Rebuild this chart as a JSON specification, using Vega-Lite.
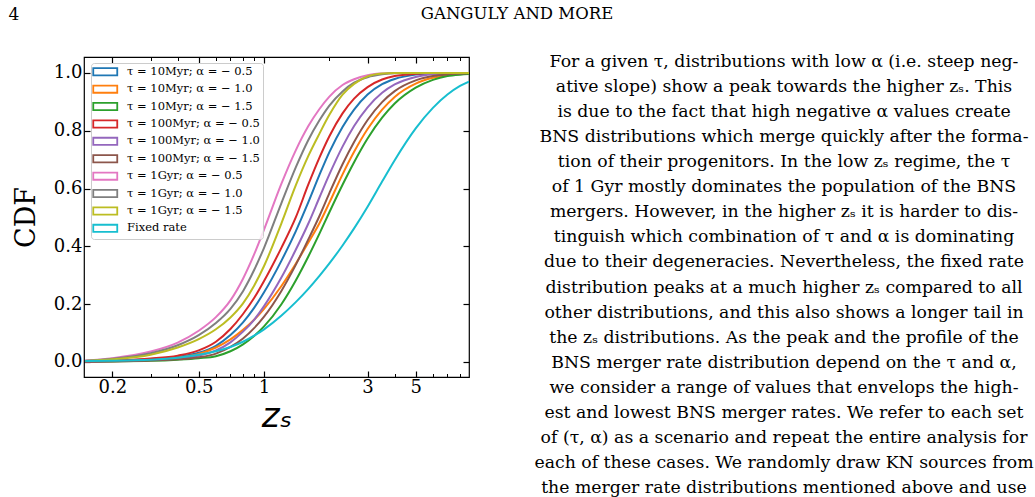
{
  "$schema": "https://vega.github.io/schema/vega-lite/v6.json",
  "padding": {"left": 8, "top": 0, "right": 0, "bottom": 0},
  "background": "white",
  "config": {"view": {"stroke": null}},
  "columns": 1,
  "align": "none",
  "spacing": 25,
  "resolve": {"scale": {"color": "independent"}, "legend": {"color": "independent"}},
  "concat": [
    {
      "width": 866,
      "height": 28,
      "data": {"values": [{"t": "GANGULY AND MORE"}]},
      "mark": {"type": "text", "align": "center", "baseline": "middle", "font": "DejaVu Serif", "fontSize": 16.5, "color": "black"},
      "encoding": {
        "text": {"field": "t"},
        "x": {"datum": 0.5, "type": "quantitative", "scale": {"domain": [0, 1]}, "axis": null},
        "y": {"datum": 0.5, "type": "quantitative", "scale": {"domain": [0, 1]},
          "axis": {"ticks": false, "labels": false, "domain": false, "grid": false,
            "title": "4", "titleAngle": 0, "titleAlign": "left", "titleBaseline": "middle", "titleX": -76, "titleY": 14,
            "titleFont": "DejaVu Serif", "titleFontSize": 17, "titleFontWeight": "normal", "titleColor": "black"}}
      }
    },
    {
      "spacing": 60,
      "resolve": {"scale": {"color": "independent"}, "legend": {"color": "independent"}},
      "hconcat": [
        {
          "width": 385,
          "height": 320,
          "view": {"stroke": "black", "strokeWidth": 1.2},
          "data": {"values": [
            {"z":0.15,"a":0.002,"b":0.002,"c":0.001,"d":0.002,"e":0.001,"f":0.001,"g":0.005,"h":0.004,"i":0.003,"j":0.003},
            {"z":0.2,"a":0.004,"b":0.004,"c":0.002,"d":0.005,"e":0.003,"f":0.002,"g":0.013,"h":0.011,"i":0.009,"j":0.004},
            {"z":0.3,"a":0.010,"b":0.008,"c":0.004,"d":0.012,"e":0.007,"f":0.005,"g":0.036,"h":0.030,"i":0.025,"j":0.008},
            {"z":0.4,"a":0.018,"b":0.015,"c":0.008,"d":0.022,"e":0.012,"f":0.009,"g":0.067,"h":0.058,"i":0.050,"j":0.015},
            {"z":0.5,"a":0.032,"b":0.028,"c":0.013,"d":0.040,"e":0.022,"f":0.016,"g":0.108,"h":0.093,"i":0.079,"j":0.025},
            {"z":0.6,"a":0.056,"b":0.050,"c":0.020,"d":0.070,"e":0.040,"f":0.029,"g":0.155,"h":0.135,"i":0.113,"j":0.037},
            {"z":0.7,"a":0.093,"b":0.078,"c":0.037,"d":0.114,"e":0.068,"f":0.052,"g":0.213,"h":0.184,"i":0.154,"j":0.052},
            {"z":0.8,"a":0.137,"b":0.111,"c":0.061,"d":0.166,"e":0.105,"f":0.081,"g":0.288,"h":0.245,"i":0.203,"j":0.070},
            {"z":0.9,"a":0.187,"b":0.146,"c":0.090,"d":0.221,"e":0.146,"f":0.117,"g":0.372,"h":0.318,"i":0.264,"j":0.091},
            {"z":1.0,"a":0.241,"b":0.184,"c":0.123,"d":0.280,"e":0.193,"f":0.157,"g":0.458,"h":0.395,"i":0.332,"j":0.113},
            {"z":1.2,"a":0.349,"b":0.262,"c":0.199,"d":0.394,"e":0.291,"f":0.245,"g":0.615,"h":0.548,"i":0.478,"j":0.160},
            {"z":1.4,"a":0.452,"b":0.340,"c":0.282,"d":0.500,"e":0.388,"f":0.336,"g":0.732,"h":0.673,"i":0.611,"j":0.207},
            {"z":1.6,"a":0.553,"b":0.413,"c":0.365,"d":0.614,"e":0.479,"f":0.424,"g":0.816,"h":0.768,"i":0.713,"j":0.253},
            {"z":1.8,"a":0.647,"b":0.480,"c":0.444,"d":0.707,"e":0.569,"f":0.505,"g":0.875,"h":0.836,"i":0.790,"j":0.298},
            {"z":2.0,"a":0.726,"b":0.551,"c":0.518,"d":0.781,"e":0.649,"f":0.584,"g":0.918,"h":0.887,"i":0.855,"j":0.341},
            {"z":2.3,"a":0.813,"b":0.649,"c":0.613,"d":0.860,"e":0.745,"f":0.684,"g":0.958,"h":0.936,"i":0.925,"j":0.403},
            {"z":2.6,"a":0.873,"b":0.727,"c":0.691,"d":0.911,"e":0.816,"f":0.761,"g":0.978,"h":0.966,"i":0.962,"j":0.462},
            {"z":3.0,"a":0.925,"b":0.806,"c":0.773,"d":0.951,"e":0.881,"f":0.837,"g":0.992,"h":0.985,"i":0.988,"j":0.537},
            {"z":3.5,"a":0.961,"b":0.873,"c":0.845,"d":0.977,"e":0.931,"f":0.899,"g":0.998,"h":0.995,"i":0.998,"j":0.624},
            {"z":4.0,"a":0.979,"b":0.917,"c":0.894,"d":0.989,"e":0.960,"f":0.937,"g":1.0,"h":0.999,"i":1.0,"j":0.698},
            {"z":5.0,"a":0.994,"b":0.963,"c":0.949,"d":0.997,"e":0.986,"f":0.974,"g":1.0,"h":1.0,"i":1.0,"j":0.808},
            {"z":6.0,"a":0.998,"b":0.983,"c":0.976,"d":0.999,"e":0.995,"f":0.989,"g":1.0,"h":1.0,"i":1.0,"j":0.879},
            {"z":7.0,"a":0.999,"b":0.992,"c":0.989,"d":1.0,"e":0.998,"f":0.995,"g":1.0,"h":1.0,"i":1.0,"j":0.925},
            {"z":8.0,"a":1.0,"b":0.996,"c":0.994,"d":1.0,"e":0.999,"f":0.998,"g":1.0,"h":1.0,"i":1.0,"j":0.955},
            {"z":8.8,"a":1.0,"b":0.998,"c":0.996,"d":1.0,"e":1.0,"f":0.999,"g":1.0,"h":1.0,"i":1.0,"j":0.970}
          ]},
          "transform": [{"fold": ["a","b","c","d","e","f","g","h","i","j"], "as": ["k","cdf"]}],
          "resolve": {"axis": {"x": "independent", "y": "independent"}},
          "layer": [
            {
              "mark": {"type": "line", "strokeWidth": 2, "interpolate": "monotone", "clip": true},
              "encoding": {
                "x": {"field": "z", "type": "quantitative",
                  "scale": {"type": "log", "domain": [0.148, 8.8], "nice": false},
                  "axis": {"orient": "bottom", "values": [0.2, 0.5, 1, 3, 5], "format": "~g", "domain": false, "grid": false,
                    "tickSize": -6, "tickWidth": 1.2, "tickColor": "black",
                    "labelFont": "DejaVu Serif", "labelFontSize": 18, "labelColor": "black", "labelPadding": 7,
                    "title": "zₛ", "titleFont": "DejaVu Sans", "titleFontStyle": "italic", "titleFontWeight": "normal", "titleFontSize": 34, "titleColor": "black", "titlePadding": 3}},
                "y": {"field": "cdf", "type": "quantitative",
                  "scale": {"domain": [-0.052, 1.055], "nice": false, "zero": false},
                  "axis": {"orient": "left", "values": [0, 0.2, 0.4, 0.6, 0.8, 1.0], "format": ".1f", "domain": false, "grid": false,
                    "tickSize": -6, "tickWidth": 1.2, "tickColor": "black",
                    "labelFont": "DejaVu Serif", "labelFontSize": 18, "labelColor": "black", "labelPadding": 8,
                    "title": "CDF", "titleFont": "DejaVu Serif", "titleFontWeight": "normal", "titleFontSize": 27, "titleColor": "black", "titlePadding": 13}},
                "color": {"field": "k", "type": "nominal",
                  "scale": {"domain": ["a","b","c","d","e","f","g","h","i","j"],
                    "range": ["#1f77b4","#ff7f0e","#2ca02c","#d62728","#9467bd","#8c564b","#e377c2","#7f7f7f","#bcbd22","#17becf"]},
                  "legend": {"orient": "none", "legendX": 7, "legendY": 6, "title": null,
                    "labelExpr": "datum.label=='a'?'τ = 10Myr; α = − 0.5':datum.label=='b'?'τ = 10Myr; α = − 1.0':datum.label=='c'?'τ = 10Myr; α = − 1.5':datum.label=='d'?'τ = 100Myr; α = − 0.5':datum.label=='e'?'τ = 100Myr; α = − 1.0':datum.label=='f'?'τ = 100Myr; α = − 1.5':datum.label=='g'?'τ = 1Gyr; α = − 0.5':datum.label=='h'?'τ = 1Gyr; α = − 1.0':datum.label=='i'?'τ = 1Gyr; α = − 1.5':'Fixed rate'",
                    "symbolType": "M-3,-0.9H3V0.9H-3Z", "symbolSize": 64, "symbolStrokeWidth": 1.8, "symbolFillColor": "transparent", "symbolOffset": 5.5,
                    "labelFont": "DejaVu Serif", "labelFontSize": 11.5, "labelColor": "black", "labelOffset": 16,
                    "strokeColor": "#cccccc", "fillColor": "rgba(255,255,255,0.8)", "cornerRadius": 3, "padding": 3, "rowPadding": 2.4}}
              }
            },
            {
              "mark": {"type": "point", "opacity": 0},
              "encoding": {
                "x": {"field": "z", "type": "quantitative",
                  "axis": {"orient": "bottom", "values": [0.3,0.4,0.6,0.7,0.8,0.9,2,4,6,7,8], "labels": false, "domain": false, "grid": false, "tickSize": -3.5, "tickWidth": 1, "tickColor": "black", "title": null}},
                "y": {"field": "cdf", "type": "quantitative",
                  "axis": {"orient": "right", "values": [0, 0.2, 0.4, 0.6, 0.8, 1.0], "labels": false, "domain": false, "grid": false, "tickSize": -6, "tickWidth": 1.2, "tickColor": "black", "title": null}}
              }
            },
            {
              "mark": {"type": "point", "opacity": 0},
              "encoding": {
                "x": {"field": "z", "type": "quantitative",
                  "axis": {"orient": "top", "values": [0.2, 0.5, 1, 3, 5], "labels": false, "domain": false, "grid": false, "tickSize": -6, "tickWidth": 1.2, "tickColor": "black", "title": null}},
                "y": {"field": "cdf", "type": "quantitative", "axis": null}
              }
            },
            {
              "mark": {"type": "point", "opacity": 0},
              "encoding": {
                "x": {"field": "z", "type": "quantitative",
                  "axis": {"orient": "top", "values": [0.3,0.4,0.6,0.7,0.8,0.9,2,4,6,7,8], "labels": false, "domain": false, "grid": false, "tickSize": -3.5, "tickWidth": 1, "tickColor": "black", "title": null}},
                "y": {"field": "cdf", "type": "quantitative", "axis": null}
              }
            }
          ]
        },
        {
          "width": 502,
          "height": 436,
          "data": {"values": [
            {"line": 1, "text": "For a given τ, distributions with low α (i.e. steep neg-"},
            {"line": 2, "text": "ative slope) show a peak towards the higher zₛ. This"},
            {"line": 3, "text": "is due to the fact that high negative α values create"},
            {"line": 4, "text": "BNS distributions which merge quickly after the forma-"},
            {"line": 5, "text": "tion of their progenitors. In the low zₛ regime, the τ"},
            {"line": 6, "text": "of 1 Gyr mostly dominates the population of the BNS"},
            {"line": 7, "text": "mergers. However, in the higher zₛ it is harder to dis-"},
            {"line": 8, "text": "tinguish which combination of τ and α is dominating"},
            {"line": 9, "text": "due to their degeneracies. Nevertheless, the fixed rate"},
            {"line": 10, "text": "distribution peaks at a much higher zₛ compared to all"},
            {"line": 11, "text": "other distributions, and this also shows a longer tail in"},
            {"line": 12, "text": "the zₛ distributions. As the peak and the profile of the"},
            {"line": 13, "text": "BNS merger rate distribution depend on the τ and α,"},
            {"line": 14, "text": "we consider a range of values that envelops the high-"},
            {"line": 15, "text": "est and lowest BNS merger rates. We refer to each set"},
            {"line": 16, "text": "of (τ, α) as a scenario and repeat the entire analysis for"},
            {"line": 17, "text": "each of these cases. We randomly draw KN sources from"},
            {"line": 18, "text": "the merger rate distributions mentioned above and use"}
          ]},
          "mark": {"type": "text", "font": "DejaVu Serif", "fontSize": 17.3, "align": "center", "baseline": "middle", "color": "black"},
          "encoding": {
            "y": {"field": "line", "type": "ordinal", "scale": {"type": "point", "padding": 0.2}, "axis": null},
            "text": {"field": "text"}
          }
        }
      ]
    }
  ]
}
